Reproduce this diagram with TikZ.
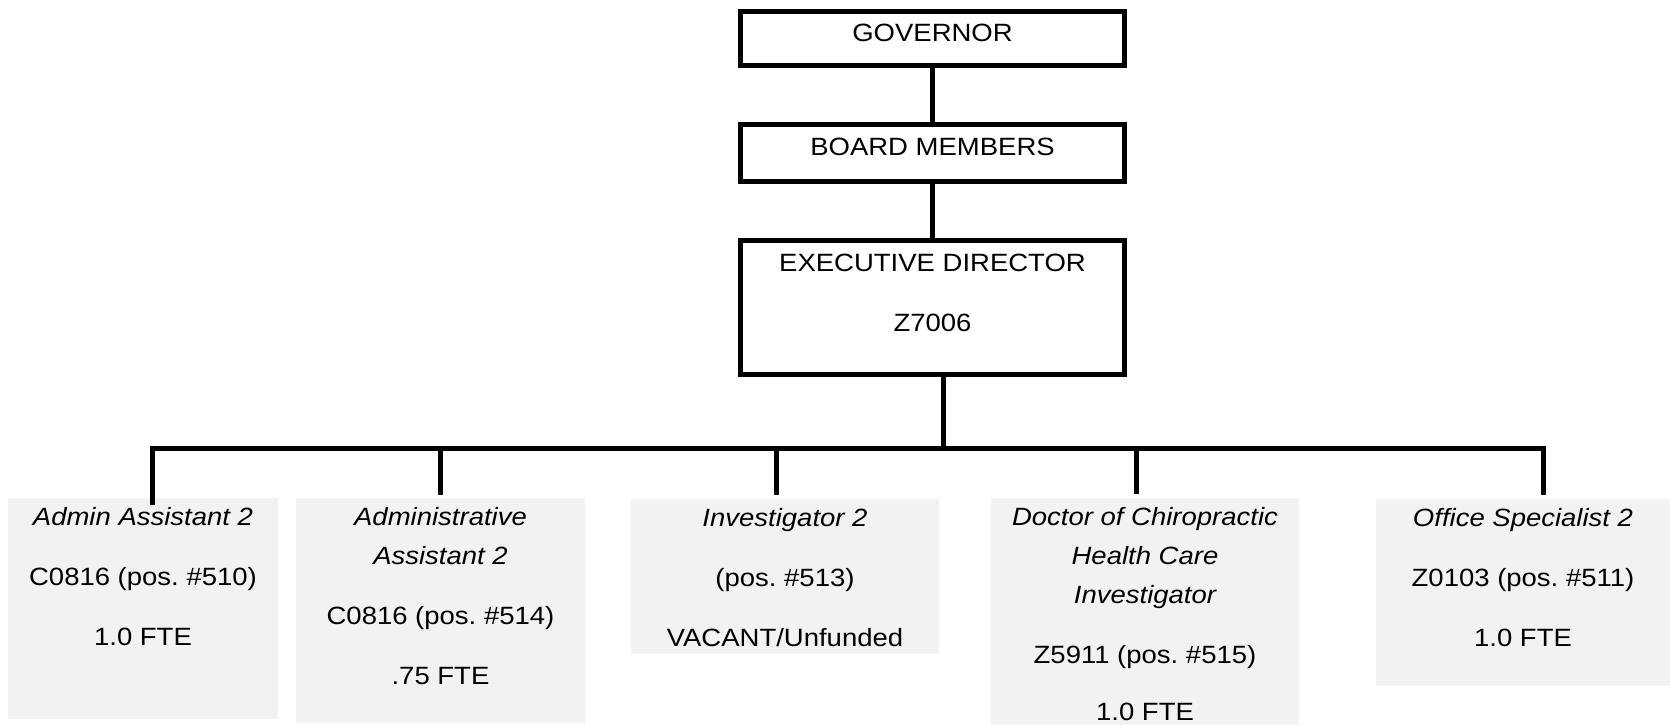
\documentclass[tikz,border=0pt]{standalone}
\usepackage{fontspec}
\setmainfont{Liberation Sans}[FakeStretch=1.1]
\usetikzlibrary{calc}
\definecolor{boxgray}{HTML}{F2F2F2}
\newcommand{\boxcontent}[4]{\begin{minipage}[c][#1][t]{#2}\centering\fontsize{12.5}{19.5}\selectfont\vspace*{#3}\strut #4\end{minipage}}
\begin{document}
\begin{tikzpicture}[x=0.5pt,y=-0.5pt,
  topbox/.style={draw=black,line width=2.6pt,inner sep=0pt,rectangle},
  subbox/.style={fill=boxgray,inner sep=0pt,rectangle},
  conn/.style={line width=2.5pt,black}]
\path[use as bounding box] (0,0) rectangle (1670,725);

% top chain
\node[topbox] (gov) at (932.5,38.5) {\boxcontent{27pt}{192pt}{1.5pt}{GOVERNOR}};
\node[topbox] (board) at (932.5,153) {\boxcontent{28.5pt}{192pt}{2pt}{BOARD MEMBERS}};
\node[topbox] (exec) at (932.5,307.5) {\boxcontent{67pt}{192pt}{2pt}{EXECUTIVE DIRECTOR\\[10.5pt]Z7006}};

% staff boxes
\node[subbox] (b1) at (143,608.5) {\boxcontent{110.5pt}{135pt}{0pt}{\itshape Admin Assistant 2\\[10.5pt]\upshape C0816 (pos.\ \#510)\\[10.5pt]1.0 FTE}};
\node[subbox] (b2) at (440.5,610.5) {\boxcontent{112.5pt}{144.5pt}{0pt}{\itshape Administrative\\Assistant 2\\[10.5pt]\upshape C0816 (pos.\ \#514)\\[10.5pt].75 FTE}};
\node[subbox] (b3) at (785,576.5) {\boxcontent{77.5pt}{154pt}{0pt}{\itshape Investigator 2\\[10.5pt]\upshape (pos.\ \#513)\\[10.5pt]VACANT/Unfunded}};
\node[subbox] (b4) at (1145,611.5) {\boxcontent{113.5pt}{154pt}{0pt}{\itshape Doctor of Chiropractic\\Health Care\\Investigator\\[10.5pt]\upshape Z5911 (pos.\ \#515)\\[9pt]1.0 FTE}};
\node[subbox] (b5) at (1523,592.5) {\boxcontent{93.5pt}{147pt}{0pt}{\itshape Office Specialist 2\\[10.5pt]\upshape Z0103 (pos.\ \#511)\\[10.5pt]1.0 FTE}};

% connectors
\draw[conn] (gov.south) -- (board.north);
\draw[conn] (board.south) -- (exec.north);
\coordinate (t1) at (152,448);
\coordinate (t2) at (440,448);
\coordinate (t3) at (776,448);
\coordinate (t4) at (1136,448);
\coordinate (t5) at (1543,448);
\coordinate (ed) at ($(exec.south)+(10.5,0)$);
\draw[conn] (ed) -- (ed |- t1);
\draw[conn] ($(t1 |- b1.north)+(0,7)$) -- (t1) -- (t5) -- ($(t5 |- b5.north)+(0,-4)$);
\draw[conn] (t2) -- ($(t2 |- b2.north)+(0,-3)$);
\draw[conn] (t3) -- ($(t3 |- b3.north)+(0,-4)$);
\draw[conn] (t4) -- ($(t4 |- b4.north)+(0,-4)$);
\end{tikzpicture}
\end{document}
